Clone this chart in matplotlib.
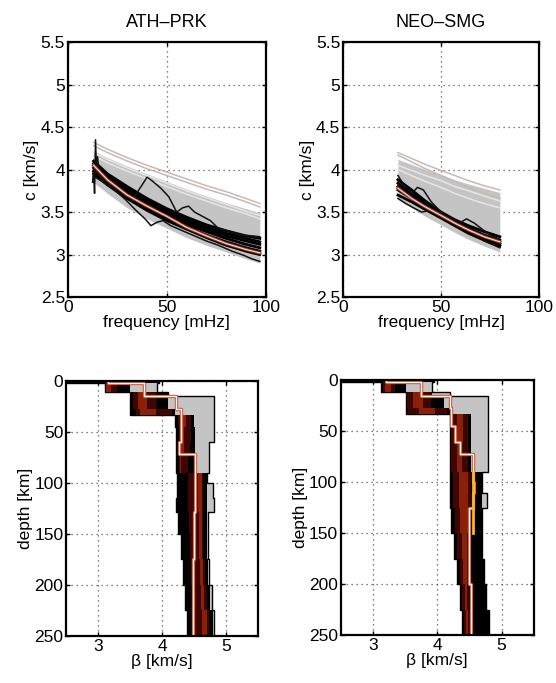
import numpy as np
import matplotlib
matplotlib.use("Agg")
import matplotlib.pyplot as plt

plt.rcParams.update({"font.family": ["Liberation Sans", "DejaVu Sans"],
                     "font.size": 12.5})

# ---- dispersion data, ATH-PRK
F1 = [13, 20, 30, 40, 50, 60, 70, 80, 90, 97]
GRAY_LO1 = [3.85, 3.72, 3.55, 3.42, 3.31, 3.20, 3.11, 3.03, 2.95, 2.90]
GRAY_HI1 = [4.22, 4.14, 4.04, 3.95, 3.86, 3.77, 3.69, 3.61, 3.54, 3.49]
PINK1 = [[4.32, 4.24, 4.14, 4.05, 3.97, 3.89, 3.81, 3.74, 3.66, 3.60],
         [4.28, 4.20, 4.10, 4.01, 3.93, 3.85, 3.77, 3.70, 3.62, 3.56]]
PALE1 = [[4.20, 4.12, 4.02, 3.93, 3.84, 3.75, 3.67, 3.59, 3.51, 3.46],
         [4.16, 4.08, 3.98, 3.89, 3.80, 3.71, 3.63, 3.55, 3.48, 3.42]]
BLACK1 = [[4.10, 3.95, 3.80, 3.66, 3.54, 3.44, 3.35, 3.28, 3.22, 3.19],
          [4.07, 3.93, 3.77, 3.63, 3.51, 3.41, 3.32, 3.25, 3.19, 3.15],
          [4.05, 3.91, 3.75, 3.61, 3.49, 3.39, 3.30, 3.22, 3.16, 3.12],
          [4.02, 3.88, 3.72, 3.58, 3.46, 3.36, 3.27, 3.19, 3.12, 3.08],
          [3.98, 3.84, 3.68, 3.55, 3.43, 3.33, 3.23, 3.15, 3.08, 3.04],
          [3.95, 3.82, 3.66, 3.52, 3.40, 3.30, 3.20, 3.11, 3.04, 3.00]]
BEST1 = [4.05, 3.88, 3.70, 3.57, 3.45, 3.32, 3.22, 3.13, 3.06, 3.02]
N1A_F = [13, 17, 22, 28, 33, 37, 40, 43, 47, 51, 55, 58, 61, 64, 68, 72, 76, 82, 88, 93, 97]
N1A_C = [4.00, 3.90, 3.82, 3.72, 3.66, 3.80, 3.91, 3.86, 3.78, 3.68, 3.50, 3.55,
         3.57, 3.50, 3.45, 3.40, 3.31, 3.27, 3.23, 3.22, 3.21]
N1B_F = [13, 16, 20, 24, 29, 34, 39, 42, 45, 48, 52, 57, 64, 70, 76, 83, 89, 93, 97]
N1B_C = [3.92, 3.88, 3.82, 3.75, 3.65, 3.53, 3.42, 3.34, 3.38, 3.40, 3.34, 3.29,
         3.22, 3.16, 3.11, 3.04, 2.99, 2.95, 2.92]
SPK_F = [12.5, 13, 13.5, 14, 14.5, 15, 16, 18, 20]
SPK_C = [3.85, 4.00, 3.72, 4.35, 3.95, 4.15, 3.92, 3.88, 3.83]

# ---- dispersion data, NEO-SMG
F2 = [28, 35, 42, 50, 57, 64, 72, 80]
GRAY_LO2 = [3.65, 3.55, 3.45, 3.35, 3.26, 3.18, 3.10, 3.03]
GRAY_HI2 = [4.12, 4.06, 4.00, 3.94, 3.88, 3.83, 3.78, 3.73]
PINK2 = [[4.20, 4.13, 4.06, 3.99, 3.93, 3.87, 3.81, 3.76],
         [4.17, 4.09, 4.01, 3.93, 3.86, 3.79, 3.72, 3.66]]
PALE2 = [[4.05, 3.99, 3.93, 3.87, 3.80, 3.75, 3.69, 3.63],
         [4.00, 3.93, 3.86, 3.79, 3.72, 3.66, 3.60, 3.55]]
BLACK2 = [[3.88, 3.76, 3.63, 3.50, 3.41, 3.34, 3.27, 3.21],
          [3.84, 3.72, 3.60, 3.48, 3.39, 3.31, 3.23, 3.17],
          [3.80, 3.69, 3.57, 3.46, 3.37, 3.28, 3.20, 3.13],
          [3.76, 3.66, 3.55, 3.44, 3.35, 3.27, 3.18, 3.12],
          [3.70, 3.62, 3.53, 3.43, 3.34, 3.25, 3.17, 3.10]]
BEST2 = [3.78, 3.66, 3.56, 3.46, 3.37, 3.29, 3.21, 3.15]
N2A_F = [28, 31, 35, 38, 41, 45, 50, 55, 60, 63, 67, 72, 76, 80]
N2A_C = [3.93, 3.82, 3.72, 3.79, 3.76, 3.62, 3.50, 3.42, 3.38, 3.42, 3.37, 3.28, 3.22, 3.18]
N2B_F = [28, 32, 36, 40, 45, 50, 55, 60, 66, 72, 80]
N2B_C = [3.66, 3.60, 3.55, 3.50, 3.52, 3.46, 3.40, 3.34, 3.25, 3.16, 3.08]

# ---- shear-velocity profiles (layer tops in km, values in km/s)
Z1 = [0, 2, 11, 15, 27, 33, 45, 60, 72, 90, 100, 115, 128, 150, 175, 200, 225, 250]
ENV_LO1 = [2.5, 3.10, 3.50, 3.50, 3.50, 4.20, 4.22, 4.22, 4.22, 4.24, 4.24, 4.21, 4.25, 4.29, 4.33, 4.36, 4.39, 4.39]
ENV_HI1 = [3.95, 3.92, 4.10, 4.81, 4.81, 4.81, 4.81, 4.74, 4.74, 4.70, 4.80, 4.81, 4.72, 4.72, 4.74, 4.78, 4.81, 4.81]
BLK_HI1 = [3.95, 3.50, 4.10, 4.10, 4.20, 4.50, 4.52, 4.52, 4.52, 4.70, 4.70, 4.70, 4.70, 4.70, 4.72, 4.75, 4.80, 4.80]
DRED_LO1 = [np.nan, 3.12, 3.55, 3.55, 3.60, 4.25, 4.26, 4.26, 4.26, 4.40, 4.40, 4.40, 4.42, 4.44, 4.46, 4.48, 4.48, 4.48]
DRED_HI1 = [np.nan, 3.30, 3.90, 3.90, 4.15, 4.45, 4.46, 4.44, 4.40, 4.64, 4.64, 4.64, 4.64, 4.64, 4.67, 4.70, 4.74, 4.74]
RED_LO1 = [np.nan, 3.12, 3.62, 3.62, 3.66, 4.28, 4.28, 4.28, 4.28, 4.56, 4.56, 4.56, 4.57, 4.57, 4.59, 4.61, 4.62, 4.62]
RED_HI1 = [np.nan, 3.20, 3.76, 3.76, 3.90, 4.38, 4.34, 4.34, 4.30, 4.62, 4.62, 4.62, 4.62, 4.62, 4.64, 4.66, 4.70, 4.70]
WHITE1 = [np.nan, 3.16, 3.71, 3.71, 4.21, 4.30, 4.30, 4.30, 4.26, 4.52, 4.52, 4.52, 4.51, 4.50, 4.50, 4.49, 4.48, 4.48]

Z2 = [0, 2, 11, 15, 27, 33, 45, 60, 72, 90, 100, 110, 125, 150, 175, 200, 225, 250]
ENV_LO2 = [2.5, 3.13, 3.51, 3.51, 3.51, 4.20, 4.20, 4.20, 4.20, 4.20, 4.20, 4.20, 4.22, 4.26, 4.31, 4.35, 4.38, 4.38]
ENV_HI2 = [3.95, 3.92, 4.20, 4.79, 4.79, 4.79, 4.79, 4.79, 4.79, 4.70, 4.70, 4.78, 4.69, 4.70, 4.72, 4.76, 4.80, 4.80]
BLK_HI2 = [3.95, 3.52, 3.92, 4.10, 4.20, 4.52, 4.52, 4.52, 4.52, 4.70, 4.70, 4.70, 4.69, 4.70, 4.72, 4.76, 4.80, 4.80]
DRED_LO2 = [np.nan, 3.15, 3.53, 3.53, 3.55, 4.22, 4.22, 4.22, 4.22, 4.24, 4.24, 4.24, 4.27, 4.31, 4.35, 4.39, 4.42, 4.42]
DRED_HI2 = [np.nan, 3.35, 3.90, 3.90, 4.15, 4.48, 4.48, 4.48, 4.48, 4.53, 4.53, 4.53, 4.53, 4.50, 4.50, 4.50, 4.52, 4.52]
RED_LO2 = [np.nan, 3.18, 3.62, 3.62, 3.72, 4.30, 4.30, 4.30, 4.30, 4.33, 4.33, 4.33, 4.35, 4.38, 4.40, 4.43, 4.45, 4.45]
RED_HI2 = [np.nan, 3.28, 3.78, 3.78, 3.96, 4.40, 4.40, 4.38, 4.38, 4.48, 4.48, 4.48, 4.48, 4.46, 4.46, 4.46, 4.48, 4.48]
WHITE2 = [np.nan, 3.20, 3.74, 3.74, 4.20, 4.22, 4.22, 4.28, 4.35, 4.56, 4.56, 4.57, 4.56, 4.50, 4.50, 4.50, 4.52, 4.52]
YEL2_Z = [90, 150]
YEL2_B = [4.56, 4.56]

TITLES = ["ATH\u2013PRK", "NEO\u2013SMG"]

fig = plt.figure(figsize=(5.56, 6.83), dpi=100)
ax_tl = fig.add_axes([0.122, 0.565, 0.356, 0.3735])
ax_tr = fig.add_axes([0.617, 0.565, 0.3525, 0.3735])
ax_bl = fig.add_axes([0.119, 0.069, 0.345, 0.373])
ax_br = fig.add_axes([0.613, 0.070, 0.347, 0.373])


def style(ax):
    ax.grid(True, color="#555555", ls=(0, (1, 3)), lw=0.9)
    ax.set_axisbelow(True)
    for s in ax.spines.values():
        s.set_linewidth(1.6)
    ax.tick_params(direction="in", top=True, right=True, length=3, width=1,
                   labelsize=12.5, pad=2)


def disp(ax, f, lo, hi, pink, pale, black, best, noisy, title):
    ax.fill_between(f, lo, hi, color="#c4c4c4", lw=0)
    for c in pale:
        ax.plot(f, c, color="#e6e6e6", lw=1.1)
    for c in pink:
        ax.plot(f, c, color="#c9b9b2", lw=1.1)
    for c in black:
        ax.plot(f, c, color="black", lw=2.0)
    for nf, nc in noisy:
        ax.plot(nf, nc, color="#111111", lw=1.1)
    ax.plot(f, best, color="#a83a22", lw=2.2)
    ax.plot(f, best, color="#f5ddd0", lw=0.8)
    ax.set_xlim(0, 100)
    ax.set_ylim(2.5, 5.5)
    ax.set_xticks([0, 50, 100])
    ax.set_yticks([2.5, 3, 3.5, 4, 4.5, 5, 5.5])
    ax.set_yticklabels(["2.5", "3", "3.5", "4", "4.5", "5", "5.5"])
    ax.set_xlabel("frequency [mHz]", labelpad=0)
    ax.set_ylabel("c [km/s]", labelpad=1)
    ax.set_title(title, fontsize=13, pad=11)
    style(ax)


def prof(ax, z, env_lo, env_hi, blk_hi, dred_lo, dred_hi, red_lo, red_hi, white):
    ax.fill_betweenx(z, env_lo, env_hi, step="post", color="#c4c4c4",
                     edgecolor="black", lw=1.0)
    ax.fill_betweenx(z, env_lo, blk_hi, step="post", color="black", lw=0)
    ax.fill_betweenx(z, dred_lo, dred_hi, step="post", color="#3e0602", lw=0)
    ax.fill_betweenx(z, red_lo, red_hi, step="post", color="#8a2008", lw=0)
    ax.step(white, z, where="post", color="#d8461e", lw=2.4)
    ax.step(white, z, where="post", color="white", lw=1.0)
    ax.set_xlim(2.5, 5.5)
    ax.set_ylim(250, 0)
    ax.set_xticks([3, 4, 5])
    ax.set_yticks([0, 50, 100, 150, 200, 250])
    ax.set_xlabel("\u03b2 [km/s]", labelpad=0)
    ax.set_ylabel("depth [km]", labelpad=1)
    style(ax)


disp(ax_tl, F1, GRAY_LO1, GRAY_HI1, PINK1, PALE1, BLACK1, BEST1,
     [(N1A_F, N1A_C), (N1B_F, N1B_C), (SPK_F, SPK_C)], TITLES[0])
disp(ax_tr, F2, GRAY_LO2, GRAY_HI2, PINK2, PALE2, BLACK2, BEST2,
     [(N2A_F, N2A_C), (N2B_F, N2B_C)], TITLES[1])
prof(ax_bl, Z1, ENV_LO1, ENV_HI1, BLK_HI1, DRED_LO1, DRED_HI1, RED_LO1, RED_HI1, WHITE1)
prof(ax_br, Z2, ENV_LO2, ENV_HI2, BLK_HI2, DRED_LO2, DRED_HI2, RED_LO2, RED_HI2, WHITE2)
ax_br.plot(YEL2_B, YEL2_Z, color="#f5b820", lw=2.0)

fig.savefig("out.png", dpi=100)
